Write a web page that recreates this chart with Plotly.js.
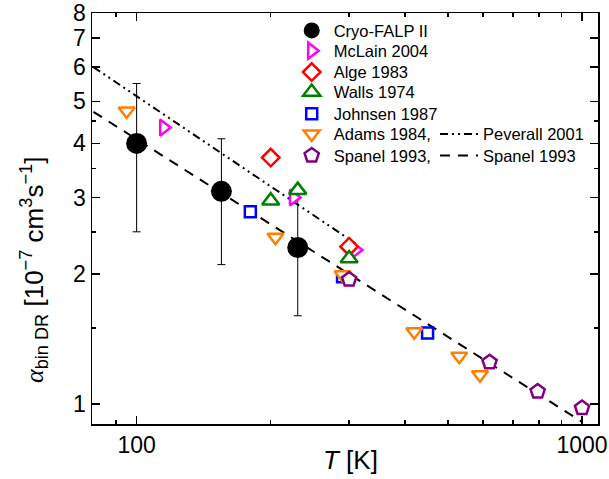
<!DOCTYPE html>
<html>
<head>
<meta charset="utf-8">
<script src="https://cdn.plot.ly/plotly-3.0.1.min.js"></script>
<style>
  html, body { margin: 0; padding: 0; background: #fff; }
  #chart { width: 609px; height: 479px; }
</style>
</head>
<body>
<div id="chart"></div>
<script>
// Binary dissociative recombination rate coefficient vs. temperature
// Temperatures in K, rate coefficients in units of 1e-7 cm^3 s^-1

const cryoT = [100, 155, 230];
const cryoA = [4.0, 3.1, 2.3];
const cryoErr = [1.5, 1.0, 0.7];

const mclainT = [115, 225, 310];
const mclainA = [4.35, 3.0, 2.27];

const algeT = [200, 300];
const algeA = [3.71, 2.31];

const wallsT = [200, 230, 300];
const wallsA = [2.95, 3.12, 2.17];

const johnsenT = [180, 290, 450];
const johnsenA = [2.78, 1.97, 1.46];

const adamsT = [95, 205, 290, 420, 530, 590];
const adamsA = [4.75, 2.43, 1.99, 1.47, 1.29, 1.17];

const spanelT = [300, 620, 795, 1000];
const spanelA = [1.94, 1.25, 1.07, 0.98];

// Fitted curves (power laws, straight on log-log axes)
const peverallT = [80, 310];
const peverallA = [6.0, 2.35];

const spanelFitT = [80, 1000];
const spanelFitA = [4.73, 0.91];

// Axis ticks
const xMajor = [100, 1000];
const xMinor = [90, 200, 300, 400, 500, 600, 700, 800, 900];
const yMajor = [1, 2, 3, 4, 5, 6, 7, 8];
const yMinor = [1.5, 2.5, 3.5, 4.5];

const FONT = 'Liberation Sans, Arial, Helvetica, sans-serif';

// plot-area geometry in pixels, used to place legend rows
const plotL = 92, plotR = 598, plotT = 13, plotB = 424;
const px2x = p => (p - plotL) / (plotR - plotL);
const px2y = p => (plotB - p) / (plotB - plotT);

const openMarker = (symbol, size, color) => ({
  symbol: symbol, size: size, color: 'white',
  line: { color: color, width: 2.5 }
});

const traces = [
  { x: peverallT, y: peverallA, name: 'Peverall 2001', mode: 'lines',
    line: { color: 'black', width: 2, dash: '8px,4px,2px,4px,2px,4px' }, legend: 'legend8' },
  { x: spanelFitT, y: spanelFitA, name: 'Spanel 1993', mode: 'lines',
    line: { color: 'black', width: 2, dash: '10px,8px' }, legend: 'legend9' },
  { x: cryoT, y: cryoA, name: 'Cryo-FALP II', mode: 'markers',
    marker: { symbol: 'circle', size: 21, color: 'black' },
    error_y: { type: 'data', array: cryoErr, visible: true, color: 'black', thickness: 1, width: 4 },
    legend: 'legend' },
  { x: mclainT, y: mclainA, name: 'McLain 2004', mode: 'markers',
    marker: openMarker('triangle-right', 14, '#FF00FF'), legend: 'legend2' },
  { x: algeT, y: algeA, name: 'Alge 1983', mode: 'markers',
    marker: openMarker('diamond', 13.5, '#FF0000'), legend: 'legend3' },
  { x: wallsT, y: wallsA, name: 'Walls 1974', mode: 'markers',
    marker: openMarker('triangle-up', 15, '#008000'), legend: 'legend4' },
  { x: johnsenT, y: johnsenA, name: 'Johnsen 1987', mode: 'markers',
    marker: openMarker('square', 11, '#0000FF'), legend: 'legend5' },
  { x: adamsT, y: adamsA, name: 'Adams 1984,', mode: 'markers',
    marker: openMarker('triangle-down', 14, '#FF8000'), legend: 'legend6' },
  { x: spanelT, y: spanelA, name: 'Spanel 1993,', mode: 'markers',
    marker: openMarker('pentagon', 15, '#800080'), legend: 'legend7' }
];
traces.forEach(t => { t.type = 'scatter'; t.showlegend = true; t.hoverinfo = 'skip'; });

// one single-row legend per entry, so rows sit at fixed pixel positions
const rowY = [30.7, 51, 72.3, 92.3, 114, 134.3, 155.7];
const legendKeys = ['legend', 'legend2', 'legend3', 'legend4', 'legend5', 'legend6', 'legend7'];
const legendBase = {
  bgcolor: 'rgba(0,0,0,0)', borderwidth: 0,
  font: { family: FONT, size: 16.5, color: 'black' },
  xanchor: 'left', yanchor: 'middle', itemwidth: 34
};

const layout = {
  width: 609, height: 479,
  margin: { l: plotL, r: 609 - plotR, t: plotT, b: 479 - plotB, pad: 0 },
  paper_bgcolor: 'white', plot_bgcolor: 'white',
  font: { family: FONT, color: 'black' },
  showlegend: true,
  xaxis: {
    type: 'log', range: [Math.log10(79.4), Math.log10(1086)],
    tickmode: 'array', tickvals: xMajor, ticktext: xMajor.map(String),
    ticks: 'inside', ticklen: 8, tickwidth: 1.5, tickcolor: 'black',
    minor: { tickmode: 'array', tickvals: xMinor, ticks: 'inside', ticklen: 4, tickwidth: 1.5, tickcolor: 'black' },
    showline: true, linecolor: 'black', linewidth: 1.5, mirror: 'allticks',
    showgrid: false, zeroline: false,
    tickfont: { family: FONT, size: 23, color: 'black' }
  },
  yaxis: {
    type: 'log', range: [Math.log10(0.9), Math.log10(8)],
    tickmode: 'array', tickvals: yMajor, ticktext: yMajor.map(String),
    ticks: 'inside', ticklen: 8, tickwidth: 1.5, tickcolor: 'black',
    minor: { tickmode: 'array', tickvals: yMinor, ticks: 'inside', ticklen: 4, tickwidth: 1.5, tickcolor: 'black' },
    showline: true, linecolor: 'black', linewidth: 1.5, mirror: 'allticks',
    showgrid: false, zeroline: false,
    tickfont: { family: FONT, size: 23, color: 'black' }
  },
  annotations: [
    { text: '<i>T</i> [K]', xref: 'paper', yref: 'paper',
      x: px2x(350), y: px2y(460), xanchor: 'center', yanchor: 'middle',
      showarrow: false, font: { family: FONT, size: 26, color: 'black' } },
    { text: '<span style="font-family:Liberation Serif"><i>α</i></span><sub>bin DR</sub> [10<sup>−7</sup> cm<sup>3</sup>s<sup>−1</sup>]',
      xref: 'paper', yref: 'paper', x: px2x(34), y: px2y(270),
      xanchor: 'center', yanchor: 'middle', textangle: -90,
      showarrow: false, font: { family: FONT, size: 26, color: 'black' } }
  ]
};

legendKeys.forEach((k, i) => {
  layout[k] = Object.assign({}, legendBase, { x: px2x(311.7 - 22), y: px2y(rowY[i]) });
});
layout.legend8 = Object.assign({}, legendBase, { x: px2x(435), y: px2y(rowY[5]), itemwidth: 38 });
layout.legend9 = Object.assign({}, legendBase, { x: px2x(435), y: px2y(rowY[6]), itemwidth: 38 });

Plotly.newPlot('chart', traces, layout, { staticPlot: true, displayModeBar: false });
</script>
</body>
</html>
